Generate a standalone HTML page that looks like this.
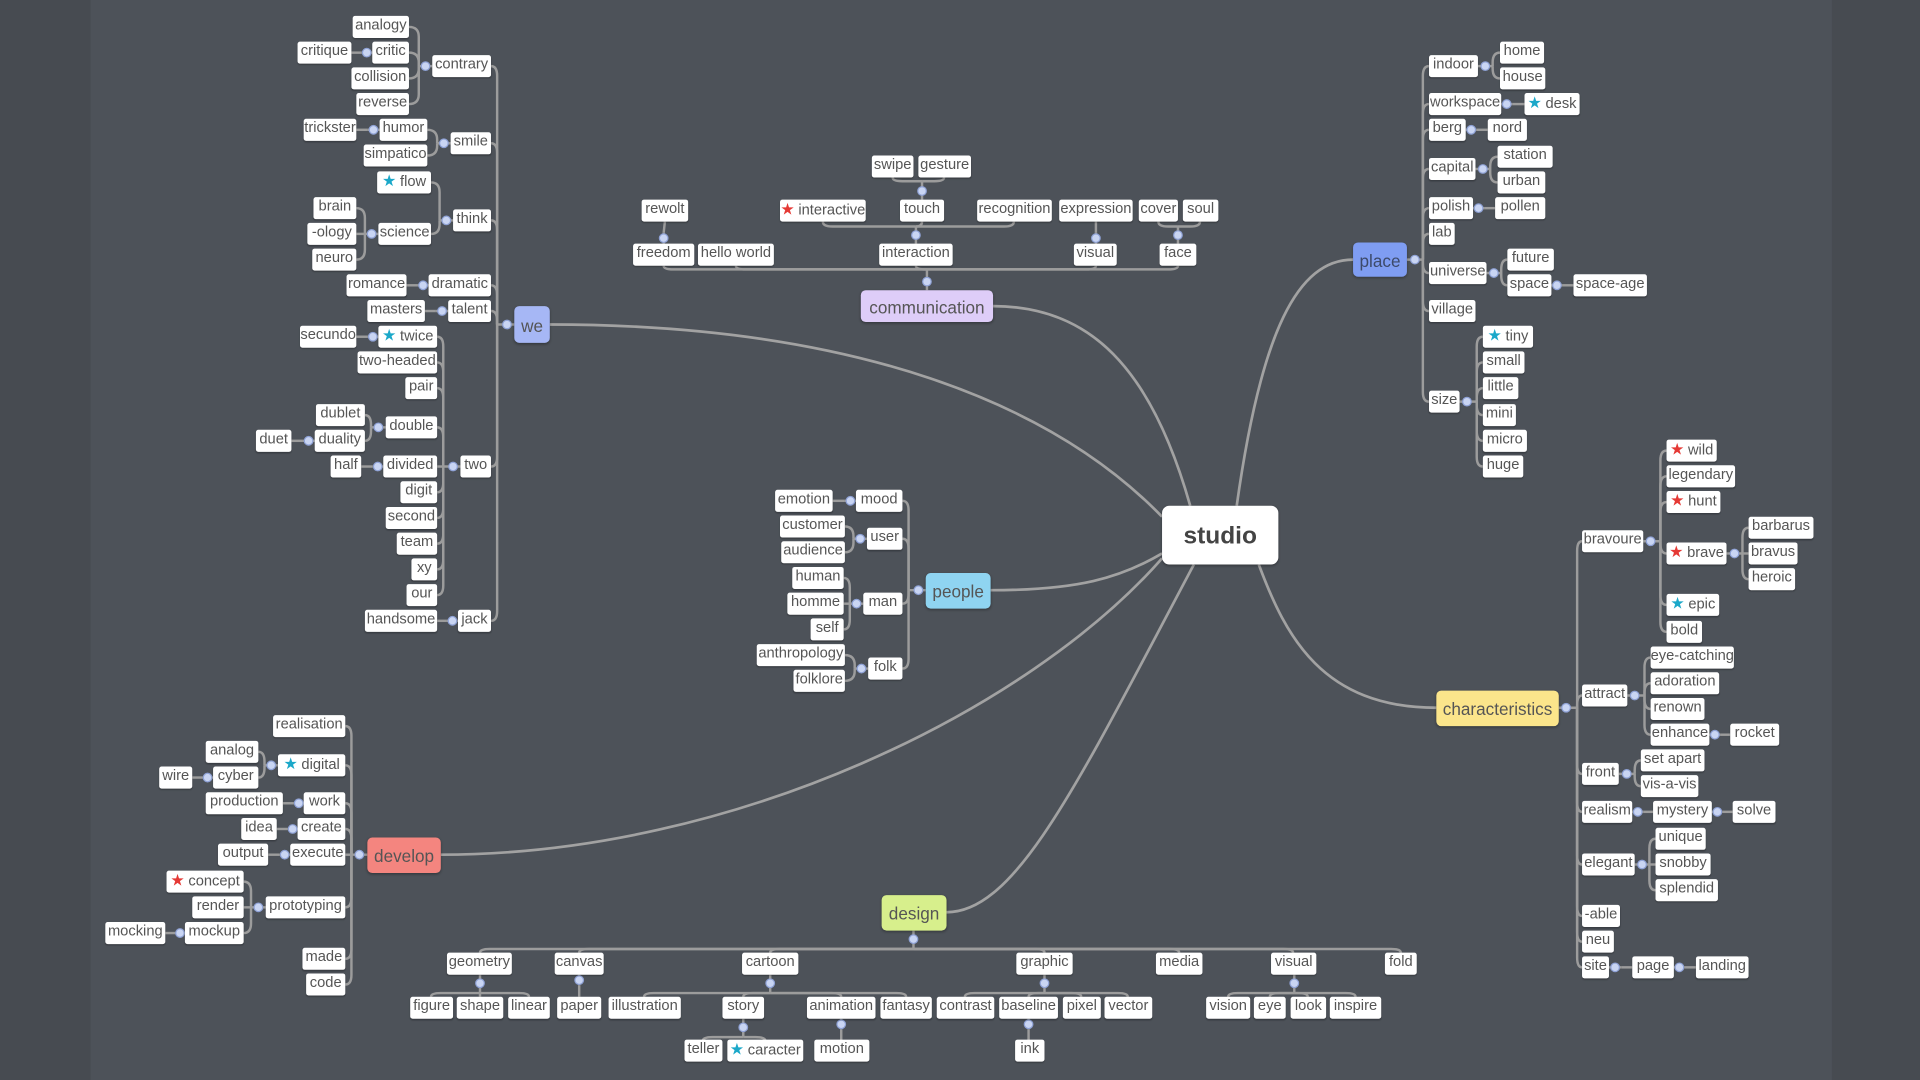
<!DOCTYPE html>
<html><head><meta charset="utf-8">
<style>
html,body{margin:0;padding:0;width:1920px;height:1080px;overflow:hidden;background:#474b51;}
#c{position:absolute;left:0;top:0;width:1568px;height:882px;transform:scale(1.22449);transform-origin:0 0;}
#bg{position:absolute;left:74px;top:0;width:1422px;height:882px;background:#4d5259;}
svg{position:absolute;left:0;top:0;}
.n{position:absolute;height:18px;line-height:19px;background:#fff;border-radius:2px;font:12px "Liberation Sans",sans-serif;color:#555;text-align:center;white-space:nowrap;box-shadow:0 1px 1px rgba(0,0,0,.25);}
.s{font-size:13px;margin-right:3px}
.r{color:#e53935}.b{color:#1ba8c9}
.m{position:absolute;border-radius:4px;font:14px "Liberation Sans",sans-serif;color:#555;text-align:center;box-shadow:0 1px 2px rgba(0,0,0,.3);padding-top:1px;box-sizing:border-box;}
</style></head><body>
<div id="c">
<div id="bg"></div>
<svg id="sv" width="1568" height="882" viewBox="0 0 1568 882">
<g fill="none" stroke="#a2a2a2" stroke-width="2.2">
<path d="M449 265 C700 265 860 330 949 422"/>
<path d="M811 250 C890 250 940 300 972 413"/>
<path d="M1105 212 C1060 212 1030 270 1010 413"/>
<path d="M809 482 C880 482 915 472 949 452"/>
<path d="M360 698 C600 698 840 580 949 456"/>
<path d="M773 745 C830 745 880 640 975 461"/>
<path d="M1173 578 C1080 578 1050 520 1028 461"/>
</g>
<g id="cn" fill="none" stroke="#9c9c9c" stroke-width="2"></g>
<g id="dt" fill="#c9d5f3" stroke="#8fa2d6" stroke-width="1"></g>
</svg>

<!-- WE -->
<div class="n" style="left:288px;top:13px;width:46px">analogy</div>
<div class="n" style="left:243px;top:34px;width:44px">critique</div>
<div class="n" style="left:304px;top:34px;width:30px">critic</div>
<div class="n" style="left:287px;top:55px;width:47px">collision</div>
<div class="n" style="left:291px;top:76px;width:43px">reverse</div>
<div class="n" style="left:353px;top:45px;width:48px">contrary</div>
<div class="n" style="left:248px;top:97px;width:43px">trickster</div>
<div class="n" style="left:310px;top:97px;width:39px">humor</div>
<div class="n" style="left:297px;top:118px;width:52px">simpatico</div>
<div class="n" style="left:368px;top:108px;width:33px">smile</div>
<div class="n" style="left:308px;top:140px;width:44px"><span class="s b">★</span>flow</div>
<div class="n" style="left:256px;top:161px;width:35px">brain</div>
<div class="n" style="left:251px;top:182px;width:40px">-ology</div>
<div class="n" style="left:255px;top:203px;width:36px">neuro</div>
<div class="n" style="left:309px;top:182px;width:43px">science</div>
<div class="n" style="left:370px;top:171px;width:31px">think</div>
<div class="n" style="left:283px;top:224px;width:49px">romance</div>
<div class="n" style="left:350px;top:224px;width:51px">dramatic</div>
<div class="n" style="left:300px;top:245px;width:47px">masters</div>
<div class="n" style="left:366px;top:245px;width:35px">talent</div>
<div class="n" style="left:245px;top:266px;width:46px">secundo</div>
<div class="n" style="left:309px;top:266px;width:48px"><span class="s b">★</span>twice</div>
<div class="n" style="left:292px;top:287px;width:65px">two-headed</div>
<div class="n" style="left:331px;top:308px;width:26px">pair</div>
<div class="n" style="left:258px;top:330px;width:40px">dublet</div>
<div class="n" style="left:257px;top:351px;width:41px">duality</div>
<div class="n" style="left:209px;top:351px;width:29px">duet</div>
<div class="n" style="left:315px;top:340px;width:42px">double</div>
<div class="n" style="left:270px;top:372px;width:25px">half</div>
<div class="n" style="left:313px;top:372px;width:44px">divided</div>
<div class="n" style="left:376px;top:372px;width:25px">two</div>
<div class="n" style="left:327px;top:393px;width:30px">digit</div>
<div class="n" style="left:315px;top:414px;width:42px">second</div>
<div class="n" style="left:324px;top:435px;width:33px">team</div>
<div class="n" style="left:336px;top:456px;width:21px">xy</div>
<div class="n" style="left:332px;top:477px;width:25px">our</div>
<div class="n" style="left:298px;top:498px;width:59px">handsome</div>
<div class="n" style="left:374px;top:498px;width:27px">jack</div>
<div class="m" style="left:420px;top:250px;width:29px;height:30px;line-height:30px;background:#a6b7f5">we</div>

<!-- COMMUNICATION -->
<div class="n" style="left:712px;top:127px;width:34px">swipe</div>
<div class="n" style="left:750px;top:127px;width:43px">gesture</div>
<div class="n" style="left:524px;top:163px;width:38px">rewolt</div>
<div class="n" style="left:637px;top:163px;width:70px"><span class="s r">★</span>interactive</div>
<div class="n" style="left:735px;top:163px;width:36px">touch</div>
<div class="n" style="left:798px;top:163px;width:61px">recognition</div>
<div class="n" style="left:865px;top:163px;width:60px">expression</div>
<div class="n" style="left:930px;top:163px;width:32px">cover</div>
<div class="n" style="left:966px;top:163px;width:29px">soul</div>
<div class="n" style="left:517px;top:199px;width:50px">freedom</div>
<div class="n" style="left:570px;top:199px;width:62px">hello world</div>
<div class="n" style="left:718px;top:199px;width:60px">interaction</div>
<div class="n" style="left:877px;top:199px;width:35px">visual</div>
<div class="n" style="left:947px;top:199px;width:30px">face</div>
<div class="m" style="left:703px;top:237px;width:108px;height:26px;line-height:26px;background:#decdf8">communication</div>

<!-- PLACE -->
<div class="m" style="left:1105px;top:198px;width:44px;height:28px;line-height:28px;background:#7f9df2;color:#3d4a6a">place</div>
<div class="n" style="left:1167px;top:45px;width:40px">indoor</div>
<div class="n" style="left:1225px;top:34px;width:36px">home</div>
<div class="n" style="left:1225px;top:55px;width:37px">house</div>
<div class="n" style="left:1167px;top:76px;width:59px">workspace</div>
<div class="n" style="left:1245px;top:76px;width:45px"><span class="s b">★</span>desk</div>
<div class="n" style="left:1167px;top:97px;width:30px">berg</div>
<div class="n" style="left:1215px;top:97px;width:32px">nord</div>
<div class="n" style="left:1167px;top:129px;width:38px">capital</div>
<div class="n" style="left:1223px;top:119px;width:45px">station</div>
<div class="n" style="left:1223px;top:140px;width:39px">urban</div>
<div class="n" style="left:1167px;top:161px;width:36px">polish</div>
<div class="n" style="left:1221px;top:161px;width:41px">pollen</div>
<div class="n" style="left:1167px;top:182px;width:21px">lab</div>
<div class="n" style="left:1167px;top:214px;width:47px">universe</div>
<div class="n" style="left:1231px;top:203px;width:38px">future</div>
<div class="n" style="left:1231px;top:224px;width:36px">space</div>
<div class="n" style="left:1285px;top:224px;width:60px">space-age</div>
<div class="n" style="left:1167px;top:245px;width:38px">village</div>
<div class="n" style="left:1167px;top:319px;width:25px">size</div>
<div class="n" style="left:1211px;top:266px;width:41px"><span class="s b">★</span>tiny</div>
<div class="n" style="left:1211px;top:287px;width:34px">small</div>
<div class="n" style="left:1211px;top:308px;width:29px">little</div>
<div class="n" style="left:1211px;top:330px;width:27px">mini</div>
<div class="n" style="left:1211px;top:351px;width:36px">micro</div>
<div class="n" style="left:1211px;top:372px;width:33px">huge</div>

<!-- PEOPLE -->
<div class="n" style="left:633px;top:400px;width:47px">emotion</div>
<div class="n" style="left:699px;top:400px;width:38px">mood</div>
<div class="n" style="left:637px;top:421px;width:53px">customer</div>
<div class="n" style="left:638px;top:442px;width:52px">audience</div>
<div class="n" style="left:708px;top:431px;width:29px">user</div>
<div class="n" style="left:647px;top:463px;width:42px">human</div>
<div class="n" style="left:643px;top:484px;width:46px">homme</div>
<div class="n" style="left:662px;top:505px;width:27px">self</div>
<div class="n" style="left:705px;top:484px;width:32px">man</div>
<div class="n" style="left:618px;top:526px;width:72px">anthropology</div>
<div class="n" style="left:648px;top:547px;width:42px">folklore</div>
<div class="n" style="left:709px;top:537px;width:28px">folk</div>
<div class="m" style="left:756px;top:468px;width:53px;height:29px;line-height:29px;background:#8fd4f1">people</div>

<!-- DEVELOP -->
<div class="n" style="left:223px;top:584px;width:59px">realisation</div>
<div class="n" style="left:168px;top:605px;width:43px">analog</div>
<div class="n" style="left:174px;top:626px;width:37px">cyber</div>
<div class="n" style="left:130px;top:626px;width:27px">wire</div>
<div class="n" style="left:227px;top:616px;width:55px"><span class="s b">★</span>digital</div>
<div class="n" style="left:168px;top:647px;width:63px">production</div>
<div class="n" style="left:248px;top:647px;width:34px">work</div>
<div class="n" style="left:197px;top:668px;width:29px">idea</div>
<div class="n" style="left:243px;top:668px;width:39px">create</div>
<div class="n" style="left:178px;top:689px;width:41px">output</div>
<div class="n" style="left:237px;top:689px;width:45px">execute</div>
<div class="n" style="left:136px;top:711px;width:63px"><span class="s r">★</span>concept</div>
<div class="n" style="left:157px;top:732px;width:42px">render</div>
<div class="n" style="left:86px;top:753px;width:49px">mocking</div>
<div class="n" style="left:151px;top:753px;width:48px">mockup</div>
<div class="n" style="left:217px;top:732px;width:65px">prototyping</div>
<div class="n" style="left:247px;top:774px;width:35px">made</div>
<div class="n" style="left:250px;top:795px;width:32px">code</div>
<div class="m" style="left:300px;top:684px;width:60px;height:29px;line-height:29px;background:#f4857f">develop</div>

<!-- DESIGN -->
<div class="m" style="left:720px;top:731px;width:53px;height:29px;line-height:29px;background:#d7ef8c">design</div>
<div class="n" style="left:365px;top:778px;width:53px">geometry</div>
<div class="n" style="left:453px;top:778px;width:40px">canvas</div>
<div class="n" style="left:606px;top:778px;width:46px">cartoon</div>
<div class="n" style="left:830px;top:778px;width:46px">graphic</div>
<div class="n" style="left:944px;top:778px;width:38px">media</div>
<div class="n" style="left:1038px;top:778px;width:37px">visual</div>
<div class="n" style="left:1131px;top:778px;width:26px">fold</div>
<div class="n" style="left:335px;top:814px;width:35px">figure</div>
<div class="n" style="left:373px;top:814px;width:38px">shape</div>
<div class="n" style="left:415px;top:814px;width:34px">linear</div>
<div class="n" style="left:455px;top:814px;width:36px">paper</div>
<div class="n" style="left:497px;top:814px;width:59px">illustration</div>
<div class="n" style="left:590px;top:814px;width:34px">story</div>
<div class="n" style="left:659px;top:814px;width:56px">animation</div>
<div class="n" style="left:719px;top:814px;width:42px">fantasy</div>
<div class="n" style="left:765px;top:814px;width:47px">contrast</div>
<div class="n" style="left:816px;top:814px;width:48px">baseline</div>
<div class="n" style="left:868px;top:814px;width:31px">pixel</div>
<div class="n" style="left:902px;top:814px;width:39px">vector</div>
<div class="n" style="left:985px;top:814px;width:36px">vision</div>
<div class="n" style="left:1024px;top:814px;width:26px">eye</div>
<div class="n" style="left:1054px;top:814px;width:29px">look</div>
<div class="n" style="left:1086px;top:814px;width:42px">inspire</div>
<div class="n" style="left:559px;top:849px;width:31px">teller</div>
<div class="n" style="left:594px;top:849px;width:62px"><span class="s b">★</span>caracter</div>
<div class="n" style="left:665px;top:849px;width:45px">motion</div>
<div class="n" style="left:829px;top:849px;width:24px">ink</div>

<!-- CHARACTERISTICS -->
<div class="m" style="left:1173px;top:564px;width:100px;height:29px;line-height:29px;background:#fbe58b">characteristics</div>
<div class="n" style="left:1292px;top:433px;width:50px">bravoure</div>
<div class="n" style="left:1361px;top:359px;width:41px"><span class="s r">★</span>wild</div>
<div class="n" style="left:1361px;top:380px;width:56px">legendary</div>
<div class="n" style="left:1361px;top:401px;width:44px"><span class="s r">★</span>hunt</div>
<div class="n" style="left:1361px;top:443px;width:49px"><span class="s r">★</span>brave</div>
<div class="n" style="left:1361px;top:485px;width:43px"><span class="s b">★</span>epic</div>
<div class="n" style="left:1361px;top:507px;width:29px">bold</div>
<div class="n" style="left:1428px;top:422px;width:53px">barbarus</div>
<div class="n" style="left:1428px;top:443px;width:40px">bravus</div>
<div class="n" style="left:1428px;top:464px;width:38px">heroic</div>
<div class="n" style="left:1292px;top:559px;width:37px">attract</div>
<div class="n" style="left:1348px;top:528px;width:68px">eye-catching</div>
<div class="n" style="left:1348px;top:549px;width:56px">adoration</div>
<div class="n" style="left:1348px;top:570px;width:44px">renown</div>
<div class="n" style="left:1348px;top:591px;width:48px">enhance</div>
<div class="n" style="left:1413px;top:591px;width:40px">rocket</div>
<div class="n" style="left:1292px;top:623px;width:30px">front</div>
<div class="n" style="left:1340px;top:612px;width:52px">set apart</div>
<div class="n" style="left:1340px;top:633px;width:47px">vis-a-vis</div>
<div class="n" style="left:1292px;top:654px;width:41px">realism</div>
<div class="n" style="left:1350px;top:654px;width:48px">mystery</div>
<div class="n" style="left:1415px;top:654px;width:35px">solve</div>
<div class="n" style="left:1292px;top:697px;width:43px">elegant</div>
<div class="n" style="left:1352px;top:676px;width:41px">unique</div>
<div class="n" style="left:1352px;top:697px;width:45px">snobby</div>
<div class="n" style="left:1352px;top:718px;width:51px">splendid</div>
<div class="n" style="left:1292px;top:739px;width:31px">-able</div>
<div class="n" style="left:1292px;top:760px;width:26px">neu</div>
<div class="n" style="left:1292px;top:781px;width:22px">site</div>
<div class="n" style="left:1333px;top:781px;width:34px">page</div>
<div class="n" style="left:1385px;top:781px;width:43px">landing</div>

<!-- STUDIO -->
<div class="m" style="left:949px;top:413px;width:95px;height:48px;line-height:48px;background:#fff;border-radius:6px;font-size:20px;font-weight:bold;color:#444">studio</div>
</div>
<script>
var cn=document.getElementById('cn'),dt=document.getElementById('dt'),NS='http://www.w3.org/2000/svg';
function P(d){var p=document.createElementNS(NS,'path');p.setAttribute('d',d);cn.appendChild(p);}
function D(x,y){var c=document.createElementNS(NS,'circle');c.setAttribute('cx',x);c.setAttribute('cy',y);c.setAttribute('r',3.5);dt.appendChild(c);}
function H(px,py,sx,k){var dir=sx>px?1:-1;P('M'+px+' '+py+'L'+sx+' '+py);
k.forEach(function(a){var kx=a[0],ky=a[1],d=py-ky;if(Math.abs(d)<2){P('M'+kx+' '+ky+'L'+sx+' '+py);return;}
var r=Math.min(8,Math.abs(d)),s=d>0?1:-1;P('M'+kx+' '+ky+'Q'+sx+' '+ky+' '+sx+' '+(ky+s*r)+'L'+sx+' '+py);});
D(px+dir*(Math.abs(sx-px)<14?Math.abs(sx-px)/2:6),py);}
function V(px,py,sy,k){var dir=sy>py?1:-1;P('M'+px+' '+py+'L'+px+' '+sy);
k.forEach(function(a){var kx=a[0],ky=a[1],d=px-kx;if(Math.abs(d)<2){P('M'+kx+' '+ky+'L'+px+' '+sy);return;}
var r=Math.min(8,Math.abs(d)),s=d>0?1:-1;P('M'+kx+' '+ky+'Q'+kx+' '+sy+' '+(kx+s*r)+' '+sy+'L'+px+' '+sy);});
D(px,py+dir*(Math.abs(sy-py)<14?Math.abs(sy-py)/2:7));}
H(353,54,342,[[334,22],[334,43],[334,64],[334,85]]);
H(304,43,295,[[287,43]]);
H(368,117,357,[[349,106],[349,127]]);
H(310,106,300,[[291,106]]);
H(370,180,359,[[352,149],[352,191]]);
H(309,191,298,[[291,170],[291,191],[291,212]]);
H(350,233,341,[[332,233]]);
H(366,254,356,[[347,254]]);
H(309,275,300,[[291,275]]);
H(376,381,362,[[357,275],[357,296],[357,317],[357,349],[357,381],[357,402],[357,423],[357,444],[357,465],[357,486]]);
H(315,349,303,[[298,339],[298,360]]);
H(257,360,247,[[238,360]]);
H(313,381,304,[[295,381]]);
H(374,507,365,[[357,507]]);
H(420,265,406,[[401,54],[401,117],[401,180],[401,233],[401,254],[401,381],[401,507]]);
H(1149,212,1162,[[1167,54],[1167,85],[1167,106],[1167,138],[1167,170],[1167,191],[1167,223],[1167,254],[1167,328]]);
H(1207,54,1219,[[1225,43],[1225,64]]);
H(1226,85,1235,[[1245,85]]);
H(1197,106,1206,[[1215,106]]);
H(1205,138,1217,[[1223,128],[1223,149]]);
H(1203,170,1212,[[1221,170]]);
H(1214,223,1226,[[1231,212],[1231,233]]);
H(1267,233,1276,[[1285,233]]);
H(1192,328,1206,[[1211,275],[1211,296],[1211,317],[1211,339],[1211,360],[1211,381]]);
H(756,482,742,[[737,409],[737,440],[737,493],[737,546]]);
H(699,409,690,[[680,409]]);
H(708,440,697,[[690,430],[690,451]]);
H(705,493,694,[[689,472],[689,493],[689,514]]);
H(709,546,698,[[690,535],[690,556]]);
H(300,698,287,[[282,593],[282,625],[282,656],[282,677],[282,698],[282,741],[282,783],[282,804]]);
H(227,625,216,[[211,614],[211,635]]);
H(174,635,165,[[157,635]]);
H(248,656,240,[[231,656]]);
H(243,677,235,[[226,677]]);
H(237,698,228,[[219,698]]);
H(217,741,205,[[199,720],[199,741],[199,762]]);
H(151,762,143,[[135,762]]);
H(1273,578,1288,[[1292,442],[1292,568],[1292,632],[1292,663],[1292,706],[1292,748],[1292,769],[1292,790]]);
H(1342,442,1356,[[1361,368],[1361,389],[1361,410],[1361,452],[1361,494],[1361,516]]);
H(1410,452,1423,[[1428,431],[1428,452],[1428,473]]);
H(1329,568,1343,[[1348,537],[1348,558],[1348,579],[1348,600]]);
H(1396,600,1405,[[1413,600]]);
H(1322,632,1335,[[1340,621],[1340,642]]);
H(1333,663,1342,[[1350,663]]);
H(1398,663,1407,[[1415,663]]);
H(1335,706,1347,[[1352,685],[1352,706],[1352,727]]);
H(1314,790,1324,[[1333,790]]);
H(1367,790,1376,[[1385,790]]);
V(757,237,220,[[542,217],[601,217],[748,217],[895,217],[962,217]]);
V(542,199,190,[[543,181]]);
V(748,199,185,[[672,181],[753,181],[828,181]]);
V(753,163,148,[[729,145],[771,145]]);
V(895,199,190,[[895,181]]);
V(962,199,185,[[946,181],[980,181]]);
V(746,760,775,[[392,778],[473,778],[629,778],[853,778],[963,778],[1056,778],[1144,778]]);
V(392,796,811,[[352,814],[392,814],[432,814]]);
V(473,796,805,[[473,814]]);
V(629,796,811,[[526,814],[607,814],[687,814],[740,814]]);
V(607,832,847,[[574,850],[625,850]]);
V(687,832,841,[[687,850]]);
V(853,796,811,[[788,814],[840,814],[883,814],[921,814]]);
V(840,832,841,[[840,850]]);
V(1057,796,811,[[1003,814],[1037,814],[1068,814],[1107,814]]);
</script>
</body></html>
